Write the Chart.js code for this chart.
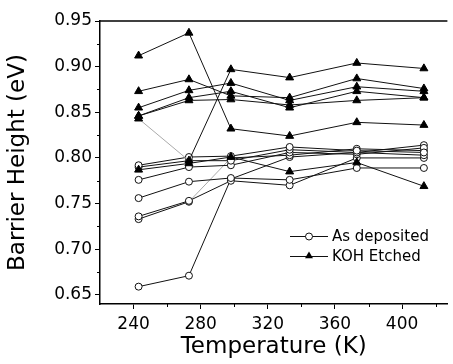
<!DOCTYPE html>
<html>
<head>
<meta charset="utf-8">
<script src="https://cdn.jsdelivr.net/npm/chart.js@4/dist/chart.umd.min.js"></script>
<style>
html,body{margin:0;padding:0;background:#fff;overflow:hidden;}
#wrap{width:453px;height:364px;position:relative;}
</style>
</head>
<body>
<div id="wrap"><canvas id="c" width="453" height="364"></canvas></div>
<script>
// Temperatures (K)
const temperatures = [243, 273, 298, 333, 373, 413];

// As deposited (open circles), barrier height in eV
const asDeposited1 = [0.792, 0.801, 0.802, 0.812, 0.808, 0.806];
const asDeposited2 = [0.790, 0.797, 0.797, 0.809, 0.806, 0.803];
const asDeposited3 = [0.776, 0.790, 0.792, 0.806, 0.804, 0.811];
const asDeposited4 = [0.756, 0.774, 0.778, 0.776, 0.789, 0.789];
const asDeposited5 = [0.736, 0.753, 0.775, 0.770, 0.800, 0.800];
const asDeposited6 = [0.733, 0.752, 0.800, 0.803, 0.810, 0.808];
const asDeposited7 = [0.659, 0.671, 0.777, 0.801, 0.806, 0.814];

// KOH etched (filled triangles), barrier height in eV
const kohEtched1 = [0.912, 0.937, 0.832, 0.824, 0.839, 0.836];
const kohEtched2 = [0.873, 0.886, 0.868, 0.866, 0.887, 0.876];
const kohEtched3 = [0.855, 0.874, 0.882, 0.863, 0.878, 0.873];
const kohEtched4 = [0.846, 0.866, 0.873, 0.855, 0.873, 0.866];
const kohEtched5 = [0.846, 0.863, 0.864, 0.858, 0.863, 0.866];
const kohEtched6 = [0.843, 0.797, 0.897, 0.888, 0.904, 0.898];
const kohEtched7 = [0.787, 0.794, 0.801, 0.785, 0.795, 0.769];

// Tick labels
const xTicks = [240, 280, 320, 360, 400];
const xMinorTicks = [260, 300, 340, 380, 420];
const yTicks = [0.65, 0.70, 0.75, 0.80, 0.85, 0.90, 0.95];
const yMinorTicks = [0.675, 0.725, 0.775, 0.825, 0.875, 0.925];

const legendLabels = ['As deposited', 'KOH Etched'];

const asDepositedSeries = [asDeposited1, asDeposited2, asDeposited3, asDeposited4, asDeposited5, asDeposited6, asDeposited7];
const kohSeries = [kohEtched1, kohEtched2, kohEtched3, kohEtched4, kohEtched5, kohEtched6, kohEtched7];

const toPoints = arr => arr.map((v, i) => ({x: temperatures[i], y: v}));
const FONT = "'DejaVu Sans', sans-serif";

const datasets = [];
asDepositedSeries.forEach((s, i) => {
  datasets.push({
    label: legendLabels[0],
    data: toPoints(s),
    borderColor: '#111',
    borderWidth: 1,
    pointStyle: 'circle',
    pointRadius: 3.5,
    pointBackgroundColor: '#fff',
    pointBorderColor: '#111',
    pointBorderWidth: 1,
    segment: i === 5 ? { borderColor: ctx => ctx.p0DataIndex === 1 ? '#aaa' : '#111' } : undefined,
    order: 2
  });
});
kohSeries.forEach((s, i) => {
  datasets.push({
    label: legendLabels[1],
    data: toPoints(s),
    borderColor: '#111',
    borderWidth: 1,
    pointStyle: 'triangle',
    pointRadius: 4.6,
    pointBackgroundColor: '#000',
    pointBorderColor: '#000',
    pointBorderWidth: 1,
    segment: i === 5 ? { borderColor: ctx => ctx.p0DataIndex === 0 ? '#aaa' : '#111' } : undefined,
    order: 1
  });
});

const framePlugin = {
  id: 'frame',
  afterDraw(chart) {
    const ctx = chart.ctx;
    const a = chart.chartArea;
    const xs = chart.scales.x, ys = chart.scales.y;
    ctx.save();
    ctx.strokeStyle = '#000';
    ctx.lineWidth = 1.5;
    ctx.beginPath();
    ctx.moveTo(a.left, a.top);
    ctx.lineTo(a.right, a.top);
    ctx.stroke();
    ctx.lineWidth = 1;
    ctx.beginPath();
    xMinorTicks.forEach(t => {
      const px = Math.round(xs.getPixelForValue(t)) + 0.5;
      ctx.moveTo(px, a.bottom);
      ctx.lineTo(px, a.bottom + 3);
    });
    yMinorTicks.forEach(t => {
      const py = Math.round(ys.getPixelForValue(t)) + 0.5;
      ctx.moveTo(a.left, py);
      ctx.lineTo(a.left - 3, py);
    });
    ctx.stroke();

    // legend
    const lx0 = 290, lx1 = 328, rows = [236, 256];
    ctx.font = "15px " + FONT;
    ctx.fillStyle = '#000';
    ctx.textBaseline = 'middle';
    ctx.textAlign = 'left';
    rows.forEach((ry, i) => {
      ctx.strokeStyle = '#111';
      ctx.lineWidth = 1;
      ctx.beginPath();
      ctx.moveTo(lx0, ry + 0.5);
      ctx.lineTo(lx1, ry + 0.5);
      ctx.stroke();
      const cx = (lx0 + lx1) / 2;
      if (i === 0) {
        ctx.beginPath();
        ctx.arc(cx, ry + 0.5, 3.5, 0, Math.PI * 2);
        ctx.fillStyle = '#fff';
        ctx.fill();
        ctx.stroke();
      } else {
        const r = 4.6;
        ctx.beginPath();
        ctx.moveTo(cx, ry - r);
        ctx.lineTo(cx + r * 0.866, ry + r * 0.5);
        ctx.lineTo(cx - r * 0.866, ry + r * 0.5);
        ctx.closePath();
        ctx.fillStyle = '#000';
        ctx.fill();
      }
      ctx.fillStyle = '#000';
      ctx.fillText(legendLabels[i], 332, ry + 1);
    });
    ctx.restore();
  }
};

new Chart(document.getElementById('c'), {
  type: 'line',
  data: { datasets },
  options: {
    responsive: false,
    animation: false,
    devicePixelRatio: 1,
    layout: { padding: { top: 21, right: 0, left: 0, bottom: 0 } },
    plugins: { legend: { display: false }, tooltip: { enabled: false } },
    scales: {
      x: {
        type: 'linear',
        min: 220,
        max: 427,
        afterFit(scale) { scale.height = 60; },
        afterBuildTicks(scale) { scale.ticks = xTicks.map(v => ({ value: v })); },
        ticks: {
          color: '#000',
          font: { family: FONT, size: 17 },
          padding: 5,
          maxRotation: 0,
          callback: v => String(v)
        },
        grid: { drawOnChartArea: false, drawTicks: true, tickLength: 5, color: '#000', lineWidth: 1 },
        border: { display: true, color: '#000', width: 1.5 },
        title: {
          display: true,
          text: 'Temperature (K)',
          color: '#000',
          font: { family: FONT, size: 23 },
          padding: { top: 0, bottom: 3 }
        }
      },
      y: {
        type: 'linear',
        min: 0.64,
        max: 0.95,
        afterFit(scale) { scale.width = 100; },
        afterBuildTicks(scale) { scale.ticks = yTicks.map(v => ({ value: v })); },
        ticks: {
          color: '#000',
          font: { family: FONT, size: 17 },
          padding: 3,
          callback: v => Number(v).toFixed(2)
        },
        grid: { drawOnChartArea: false, drawTicks: true, tickLength: 5, color: '#000', lineWidth: 1 },
        border: { display: true, color: '#000', width: 1.5 },
        title: {
          display: true,
          text: 'Barrier Height (eV)',
          color: '#000',
          font: { family: FONT, size: 23 },
          padding: { top: 4, bottom: 4 }
        }
      }
    }
  },
  plugins: [framePlugin]
});
</script>
</body>
</html>
